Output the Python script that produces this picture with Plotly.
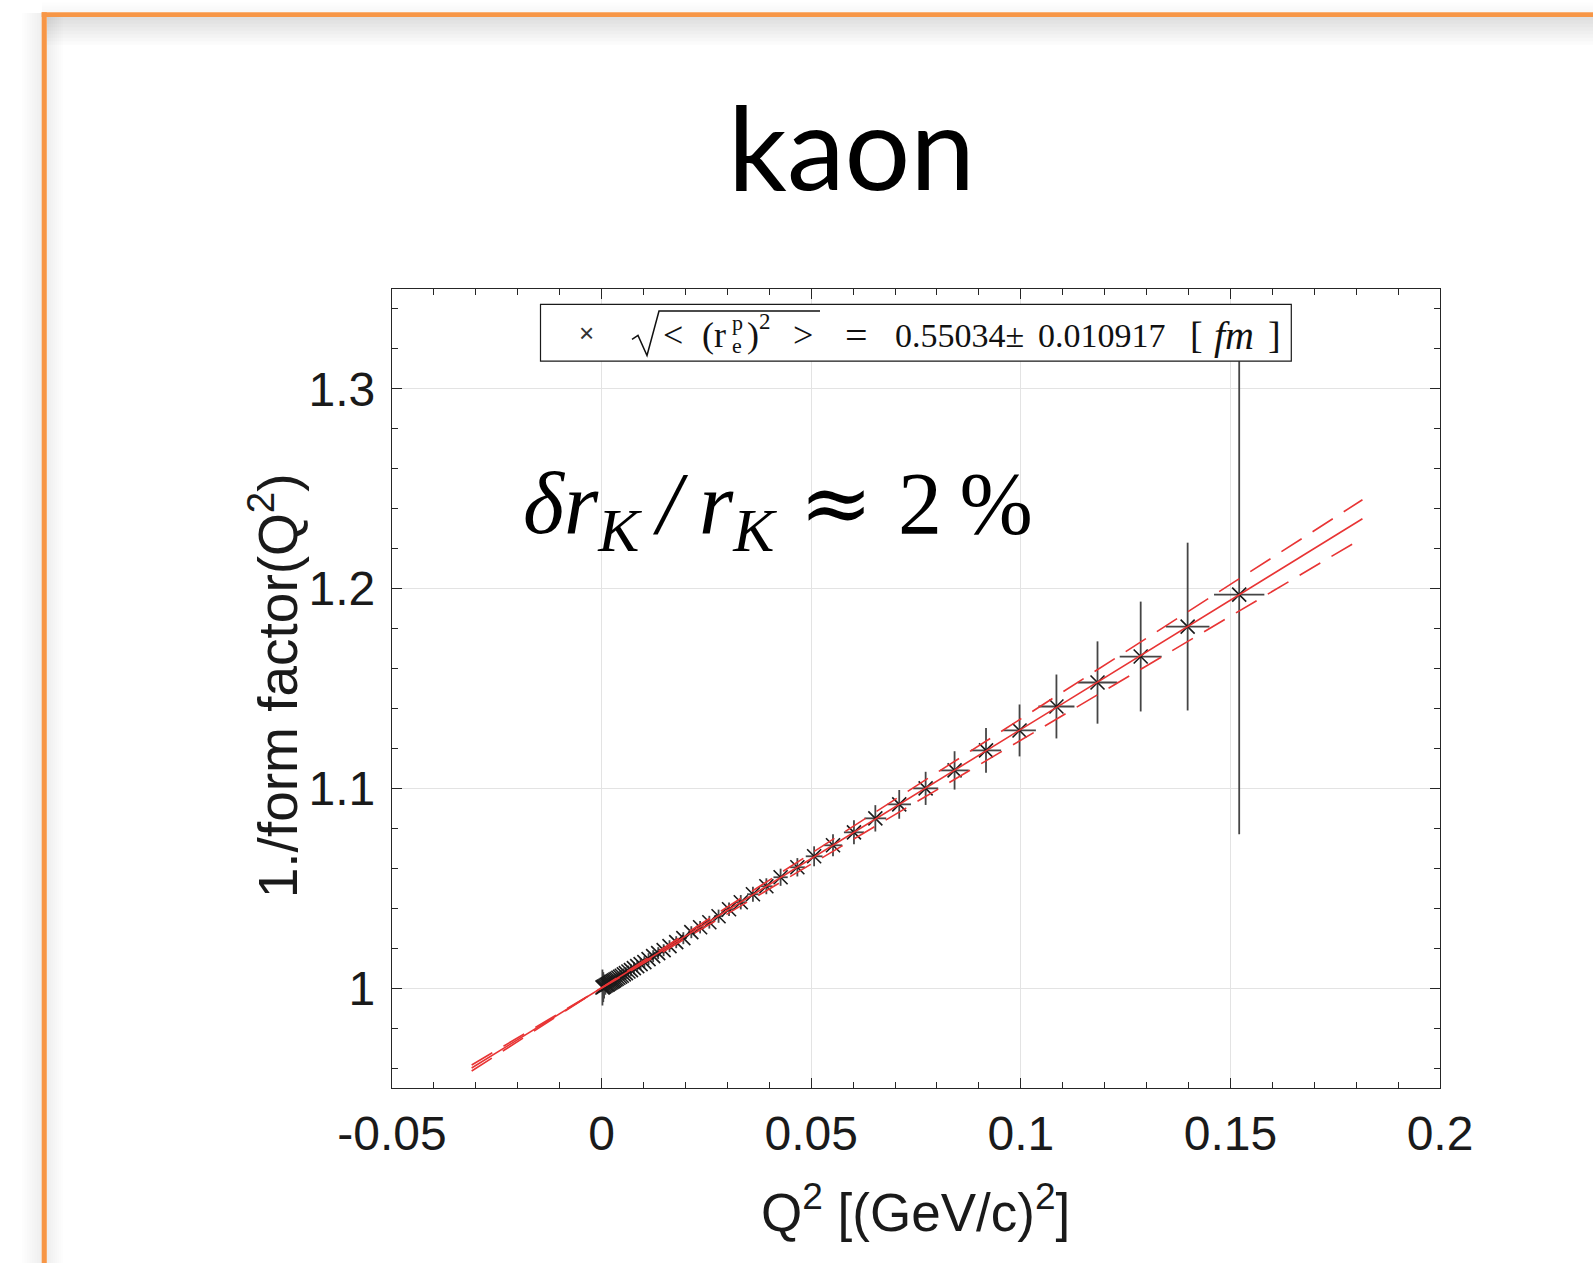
import plotly.graph_objects as go

# ---------------- data ----------------
q2 = [0.1521, 0.1398, 0.1286, 0.1183, 0.1085, 0.0997, 0.0917, 0.0842, 0.0773, 0.0710,
      0.0653, 0.0602, 0.0552, 0.0507, 0.0467, 0.0427, 0.0393, 0.0361, 0.0332, 0.0304,
      0.0279, 0.0257, 0.0235, 0.0214, 0.0195, 0.0178, 0.0162, 0.0148, 0.0135, 0.0123,
      0.0112, 0.0102, 0.0093, 0.0085, 0.0077, 0.0070, 0.0064, 0.0058, 0.0053, 0.0048,
      0.0044, 0.0040, 0.0036, 0.0033, 0.0030, 0.0027, 0.0024, 0.0021, 0.0018, 0.0015,
      0.0012, 0.0009, 0.0006, 0.0004, 0.0002]
inv_ff = [1.197, 1.181, 1.166, 1.153, 1.141, 1.129, 1.119, 1.109, 1.100, 1.092,
          1.085, 1.078, 1.0715, 1.066, 1.0605, 1.0555, 1.051, 1.047, 1.043, 1.0395,
          1.036, 1.033, 1.0305, 1.028, 1.025, 1.023, 1.021, 1.019, 1.0175, 1.016,
          1.0145, 1.013, 1.012, 1.011, 1.010, 1.009, 1.0083, 1.0075, 1.0069, 1.0062,
          1.0057, 1.0052, 1.0047, 1.0043, 1.0039, 1.0035, 1.0031, 1.0027, 1.0023, 1.0019,
          1.0016, 1.0012, 1.0008, 1.0005, 1.0003]
q2_err = [0.0060, 0.0052, 0.0050, 0.0047, 0.0043, 0.0039, 0.0036, 0.0034, 0.0030, 0.0028,
          0.0026, 0.0024, 0.0022, 0.0020, 0.0018, 0.0017, 0.0015, 0.0014, 0.0013, 0.0012,
          0.0011, 0.0010, 0.0009, 0.0008, 0.0008, 0.0007, 0.0006, 0.0006, 0.0005, 0.0005,
          0.0004, 0.0004, 0.0004, 0.0003, 0.0003, 0.0003, 0.0003, 0.0002, 0.0002, 0.0002,
          0.0002, 0.0002, 0.0001, 0.0001, 0.0001, 0.0001, 0.0001, 0.0001, 0.0001, 0.0001,
          0.0001, 0.0001, 0.0001, 0.0001, 0.0001]
inv_ff_err = [0.120, 0.042, 0.0275, 0.0206, 0.016, 0.013, 0.0112, 0.0096, 0.0083, 0.0072,
              0.0066, 0.0060, 0.0055, 0.0050, 0.0046, 0.0043, 0.0040, 0.0038, 0.0036, 0.0034,
              0.0033, 0.0032, 0.0031, 0.0030, 0.0030, 0.0030, 0.0030, 0.0030, 0.0030, 0.0030,
              0.0030, 0.0030, 0.0030, 0.0030, 0.0030, 0.0030, 0.0030, 0.0030, 0.0030, 0.0030,
              0.0030, 0.0030, 0.0030, 0.0030, 0.0030, 0.0030, 0.0030, 0.0030, 0.0030, 0.0030,
              0.0035, 0.0045, 0.0060, 0.0075, 0.0090]

fit_q2 = [-0.031, 0.1815]
fit_central = [0.960, 1.235]
fit_band_a = [0.9585, 1.2445]
fit_band_b = [0.9615, 1.2253]

x_ticks = [-0.05, 0, 0.05, 0.1, 0.15, 0.2]
x_ticktext = ["-0.05", "0", "0.05", "0.1", "0.15", "0.2"]
y_ticks = [1.0, 1.1, 1.2, 1.3]
y_ticktext = ["1", "1.1", "1.2", "1.3"]

title_text = "kaon"
radius_value = "0.55034\u00b1"
radius_error = "0.010917"
note_text = ("<i>\u03b4r</i><sub><i>K</i></sub>\u2009<i>/</i>\u2009<i>r</i><sub><i>K</i></sub>"
             "\u2009\u200a<span style='font-family:DejaVu Serif'>\u2248</span>\u2009\u200a2\u2009%")

# ---------------- layout geometry (pixels) ----------------
W_FIG, H_FIG = 1593, 1263
L, R, T, B = 392, 1440, 288.5, 1088
PW, PH = R - L, B - T


def px(x):
    return (x - L) / PW


def py(y):
    return (B - y) / PH


fig = go.Figure()

fig.add_trace(go.Scatter(
    x=q2, y=inv_ff, mode="markers",
    marker=dict(symbol="x-thin", size=14, line=dict(width=1.6, color="#1a1a1a"), color="#1a1a1a"),
    error_x=dict(type="data", array=q2_err, visible=True, width=0, thickness=1.8, color="#454545"),
    error_y=dict(type="data", array=inv_ff_err, visible=True, width=0, thickness=1.8, color="#454545"),
    showlegend=False, hoverinfo="skip"))

red = "rgb(232,52,52)"
fig.add_trace(go.Scatter(x=fit_q2, y=fit_central, mode="lines",
                         line=dict(color=red, width=1.6), showlegend=False))
for band in (fit_band_a, fit_band_b):
    fig.add_trace(go.Scatter(x=fit_q2, y=band, mode="lines",
                             line=dict(color=red, width=1.6, dash="24px,13px"), showlegend=False))

axis_col = "#262626"
grid_col = "#e3e3e3"
tick_font = dict(family="Liberation Sans, Arial, sans-serif", size=48, color="#1a1a1a")

fig.update_xaxes(range=[-0.05, 0.2], tickvals=x_ticks, ticktext=x_ticktext,
                 showline=True, linecolor=axis_col, linewidth=1.3, mirror="ticks",
                 ticks="inside", ticklen=10, tickwidth=1.2, tickcolor=axis_col,
                 showgrid=True, gridcolor=grid_col, gridwidth=1, zeroline=False,
                 tickfont=tick_font, ticklabelstandoff=3,
                 minor=dict(dtick=0.01, ticks="inside", ticklen=6, tickwidth=1, tickcolor=axis_col, showgrid=False))
fig.update_yaxes(range=[0.95, 1.35], tickvals=y_ticks, ticktext=y_ticktext,
                 showline=True, linecolor=axis_col, linewidth=1.3, mirror="ticks",
                 ticks="inside", ticklen=10, tickwidth=1.2, tickcolor=axis_col,
                 showgrid=True, gridcolor=grid_col, gridwidth=1, zeroline=False,
                 tickfont=tick_font, ticklabelstandoff=6,
                 minor=dict(dtick=0.02, ticks="inside", ticklen=6, tickwidth=1, tickcolor=axis_col, showgrid=False))

shapes = []
# slide shadow (soft gradient) and orange frame
for i in range(8):
    shapes.append(dict(type="rect", xref="paper", yref="paper",
                       x0=px(47), x1=px(W_FIG + 5), y0=py(16), y1=py(16 + 3.5 * (i + 1)),
                       fillcolor="rgba(0,0,0,0.014)", line=dict(width=0), layer="below"))
    shapes.append(dict(type="rect", xref="paper", yref="paper",
                       x0=px(47), x1=px(47 + 2 * (i + 1)), y0=py(16), y1=py(H_FIG + 5),
                       fillcolor="rgba(0,0,0,0.008)", line=dict(width=0), layer="below"))
    shapes.append(dict(type="rect", xref="paper", yref="paper",
                       x0=px(42 - 2.5 * (i + 1)), x1=px(42), y0=py(12), y1=py(H_FIG + 5),
                       fillcolor="rgba(0,0,0,0.006)", line=dict(width=0), layer="below"))
    shapes.append(dict(type="rect", xref="paper", yref="paper",
                       x0=px(42), x1=px(W_FIG + 5), y0=py(12 - 1.4 * (i + 1)), y1=py(12),
                       fillcolor="rgba(0,0,0,0.005)", line=dict(width=0), layer="below"))
shapes.append(dict(type="rect", xref="paper", yref="paper",
                   x0=px(41.7), x1=px(46.8), y0=py(11.7), y1=py(H_FIG + 5),
                   fillcolor="#F79646", line=dict(width=0), layer="above"))
shapes.append(dict(type="rect", xref="paper", yref="paper",
                   x0=px(41.7), x1=px(W_FIG + 5), y0=py(11.7), y1=py(16.3),
                   fillcolor="#F79646", line=dict(width=0), layer="above"))
# legend box
shapes.append(dict(type="rect", xref="paper", yref="paper",
                   x0=px(540.5), x1=px(1291.3), y0=py(360.7), y1=py(303.8),
                   fillcolor="white", line=dict(color="#1a1a1a", width=1.2), layer="above"))
# radical sign
rad = [(632, 339), (638, 335), (647, 355), (659, 310.5), (820, 310.5)]
path = "M " + " L ".join(f"{px(a):.5f},{py(b):.5f}" for a, b in rad)
shapes.append(dict(type="path", xref="paper", yref="paper", path=path,
                   line=dict(color="#111", width=1.5), layer="above"))

serif = "Liberation Serif, Times New Roman, serif"
sans = "Liberation Sans, Arial, sans-serif"


def ann(text, x, y, size, family=serif, xanchor="center", yanchor="middle", color="#111", **kw):
    return dict(text=text, x=px(x), y=py(y), xref="paper", yref="paper",
                xanchor=xanchor, yanchor=yanchor, showarrow=False,
                font=dict(family=family, size=size, color=color), **kw)


annotations = [
    ann(title_text, 851, 216, 116, family="Lato, Open Sans, sans-serif", yanchor="bottom", color="#000"),
    ann("1./form factor(Q<sup>2</sup>)", 274, 686, 55, family=sans, color="#1a1a1a", textangle=-90),
    ann("Q<sup>2</sup> [(GeV/c)<sup>2</sup>]", 915, 1209, 53, family=sans, color="#1a1a1a"),
    # legend content
    ann("\u00d7", 586, 333, 26, family=sans, color="#333"),
    ann("&lt;", 673, 335, 36),
    ann("(r", 700, 335, 36, xanchor="left"),
    ann("p", 737, 322, 22),
    ann("e", 737, 345, 22),
    ann(")", 745, 335, 36, xanchor="left"),
    ann("2", 765, 321, 23),
    ann("&gt;", 803, 335, 36),
    ann("=", 856, 335, 40),
    ann(radius_value, 893, 335, 34, xanchor="left"),
    ann(radius_error, 1036, 335, 34, xanchor="left"),
    ann("[", 1196, 335, 38),
    ann("<i>fm</i>", 1234, 335, 40),
    ann("]", 1274, 335, 38),
    # precision note
    ann(note_text, 521, 566, 88, xanchor="left", yanchor="bottom", color="#000"),
]

fig.update_layout(width=W_FIG, height=H_FIG, autosize=False,
                  margin=dict(l=L, r=W_FIG - R, t=T, b=H_FIG - B, pad=0),
                  paper_bgcolor="white", plot_bgcolor="white",
                  shapes=shapes, annotations=annotations, showlegend=False)

fig.write_html("out.html")
